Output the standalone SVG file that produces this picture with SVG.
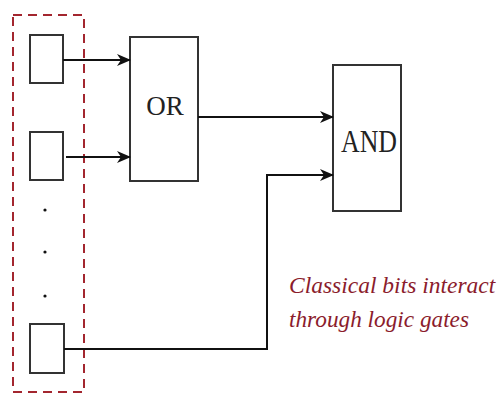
<svg xmlns="http://www.w3.org/2000/svg" width="501" height="394" viewBox="0 0 501 394">
<style>
.box{fill:#fff;stroke:#333;stroke-width:2}
.wire{fill:none;stroke:#111;stroke-width:2}
.gate{font-family:"Liberation Serif","Times New Roman",serif;fill:#222}
.note{font-family:"Liberation Serif","Times New Roman",serif;font-style:italic;fill:#8b1c2c;font-size:23.5px}
</style>
<defs>
<marker id="arr" viewBox="0 0 14 12" refX="13" refY="6" markerWidth="14" markerHeight="12" markerUnits="userSpaceOnUse" orient="auto">
<path d="M0,0 L14,6 L0,12 L4,6 Z" fill="#111"/>
</marker>
</defs>
<g id="register">
<rect x="13" y="15" width="71" height="377" fill="none" stroke="#a3262f" stroke-width="2" stroke-dasharray="9,6"/>
</g>
<g id="bit1"><rect class="box" x="30" y="35" width="33" height="48"/></g>
<g id="bit2"><rect class="box" x="30" y="132" width="33" height="48"/></g>
<g id="dots">
<circle cx="45" cy="210" r="1.6" fill="#111"/>
<circle cx="45" cy="252" r="1.6" fill="#111"/>
<circle cx="45" cy="296" r="1.6" fill="#111"/>
</g>
<g id="bitn"><rect class="box" x="30" y="324" width="34" height="49"/></g>
<g id="or">
<rect class="box" x="130" y="37" width="68" height="144"/>
<text class="gate" x="165" y="115" font-size="27" text-anchor="middle">OR</text>
</g>
<g id="and">
<rect class="box" x="333" y="65" width="68" height="146"/>
<text class="gate" x="341" y="152" font-size="32" textLength="56" lengthAdjust="spacingAndGlyphs">AND</text>
</g>
<g id="connectors">
<line class="wire" x1="63" y1="60" x2="130" y2="60" marker-end="url(#arr)"/>
<line class="wire" x1="66" y1="157" x2="130" y2="157" marker-end="url(#arr)"/>
<line class="wire" x1="198" y1="117" x2="333" y2="117" marker-end="url(#arr)"/>
<polyline class="wire" points="64,349 267,349 267,175 333,175" marker-end="url(#arr)"/>
</g>
<g id="caption">
<text class="note" x="289" y="293">Classical bits interact</text>
<text class="note" x="289" y="327" textLength="180" lengthAdjust="spacingAndGlyphs">through logic gates</text>
</g>
</svg>
